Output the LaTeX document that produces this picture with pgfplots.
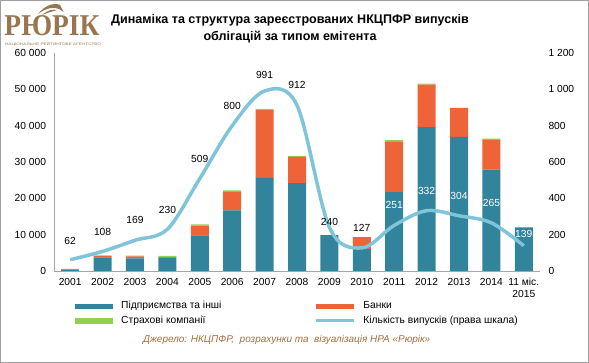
\documentclass[border=0pt]{standalone}
\usepackage{graphicx}
\usepackage{fontspec}
\setmainfont{Liberation Sans}
\newfontfamily\logofont{Liberation Serif}
\usepackage{pgfplots}
\pgfplotsset{compat=1.18}
\usepackage{pgfplotstable}
\definecolor{tealc}{HTML}{31849B}
\definecolor{orangec}{HTML}{EE6338}
\definecolor{greenc}{HTML}{92D050}
\definecolor{linec}{HTML}{7FC4D8}
\definecolor{brownc}{HTML}{9A7650}
\definecolor{srcc}{HTML}{A37040}
\newcommand\lf{\fontsize{10.3}{12}\selectfont}

\pgfplotstableread{
x corp bank ins
0 400 200 0
1 3770 350 150
2 3500 550 200
3 3700 150 300
4 9800 2700 350
5 16700 5200 300
6 25600 18700 300
7 24200 7200 300
8 9900 0 0
9 6050 3300 0
10 21700 14000 300
11 39600 11700 300
12 36900 8000 0
13 27900 8200 300
14 12000 0 0
}\bars

\pgfplotstableread{
x n
0 62
1 108
2 169
3 230
4 509
5 800
6 991
7 912
8 240
9 127
10 251
11 332
12 304
13 265
14 139
}\issues

\begin{document}
\begin{tikzpicture}
\useasboundingbox (-54bp,271bp) rectangle (535bp,-92bp);
\draw[color=gray!75, line width=1.3bp] (-53.35bp,270.35bp) rectangle (534.35bp,-91.35bp);

% logo
\node[text=brownc, inner sep=0pt] at (-2bp,245.5bp) {\resizebox{95bp}{20bp}{\logofont\bfseries РЮРІК}};
\node[text=brownc, inner sep=0pt] at (-1bp,226.5bp) {\resizebox{96bp}{3.2bp}{\fontsize{5}{5}\selectfont НАЦІОНАЛЬНЕ РЕЙТИНГОВЕ АГЕНТСТВО}};
\fill[brownc] (-16bp,257bp) .. controls (-10bp,265bp) and (0bp,269bp) .. (6bp,266bp)
  -- (9.5bp,259bp) -- (5bp,262bp) .. controls (0bp,264.5bp) and (-8bp,263bp) .. (-16bp,257bp) -- cycle;
\fill[brownc] (-12bp,256bp) .. controls (-6bp,261bp) and (-1bp,262bp) .. (3bp,261bp)
  .. controls (-2bp,259.5bp) and (-7bp,258bp) .. (-12bp,256bp) -- cycle;

% title
\node[align=center, inner sep=0pt, font=\fontsize{12.6}{17}\selectfont\bfseries] at (236bp,242.5bp)
  {Динаміка та структура зареєстрованих НКЦПФР випусків\\облігацій за типом емітента};

% source
\node[inner sep=0pt, text=srcc, font=\fontsize{10}{12}\selectfont\itshape] at (232.7bp,-69bp)
  {Джерело: НКЦПФР,\ \ розрахунки та\ \ візуалізація НРА «Рюрік»};

\begin{axis}[
  at={(0,0)}, anchor=south west,
  scale only axis, width=486bp, height=218bp,
  xmin=-0.5, xmax=14.5, ymin=0, ymax=60000,
  scaled y ticks=false, scaled x ticks=false,
  ybar stacked, bar width=18bp,
  axis x line*=bottom, axis y line*=left,
  axis line style={-, draw=gray!70, line width=0.9bp},
  major tick length=0pt,
  xtick={0,...,14},
  xticklabels={2001,2002,2003,2004,2005,2006,2007,2008,2009,2010,2011,2012,2013,2014,{11 міс.\\2015}},
  xticklabel style={align=center, font=\lf, yshift=-4bp},
  ytick={0,10000,20000,30000,40000,50000,60000},
  yticklabels={0,10 000,20 000,30 000,40 000,50 000,60 000},
  yticklabel style={font=\lf, xshift=-4.5bp},
  legend columns=2,
  legend cell align=left,
  legend style={at={(axis description cs:0.0432,-0.141)}, anchor=north west,
    draw=none, fill=none, inner sep=0pt, font=\lf,
    /tikz/every odd column/.append style={column sep=8bp},
    /tikz/every even column/.append style={column sep=93bp},
    /tikz/row sep=5.4bp,
    nodes={inner sep=0pt, text height=7bp, text depth=2bp}},
]
\addplot[fill=tealc, draw=none,
  legend image code/.code={\fill[tealc] (0bp,-2.75bp) rectangle (38bp,2.75bp);}]
  table[x=x, y=corp] {\bars};
\addlegendentry{Підприємства та інші}
\addplot[fill=orangec, draw=none,
  legend image code/.code={\fill[orangec] (0bp,-2.75bp) rectangle (38bp,2.75bp);}]
  table[x=x, y=bank] {\bars};
\addlegendentry{Банки}
\addplot[fill=greenc, draw=none,
  legend image code/.code={\fill[greenc] (0bp,-2.75bp) rectangle (38bp,2.75bp);}]
  table[x=x, y=ins] {\bars};
\addlegendentry{Страхові компанії}
\addlegendimage{color=linec, line width=3bp,
  legend image code/.code={\draw[linec, line width=3bp] (0bp,0bp) -- (38bp,0bp);}}
\addlegendentry{Кількість випусків (права шкала)}
\end{axis}

\begin{axis}[
  at={(0,0)}, anchor=south west,
  scale only axis, width=486bp, height=218bp,
  xmin=-0.5, xmax=14.5, ymin=0, ymax=1200,
  scaled y ticks=false,
  axis x line=none, axis y line*=right,
  y axis line style={draw=none},
  major tick length=0pt,
  ytick={0,200,400,600,800,1000,1200},
  yticklabels={0,200,400,600,800,1 000,1 200},
  yticklabel style={font=\lf, anchor=west, xshift=5bp},
  /pgf/number format/assume math mode=true,
]
\addplot[color=linec, line width=3.5bp, smooth, tension=0.55, mark=none]
  table[x=x, y=n] {\issues};
\addplot[draw=none, mark=none, nodes near coords, point meta=explicit,
  visualization depends on={\thisrow{dy} \as \dy},
  every node near coord/.append style={anchor=center, yshift=\dy bp, font=\lf, text=black, inner sep=0pt}]
  table[x=x, y=n, meta=n] {
x n dy
0 62 19
1 108 19
2 169 20
3 230 19
4 509 20
5 800 20
6 991 16
7 912 20
8 240 5
9 127 20
};
\addplot[draw=none, mark=none, nodes near coords, point meta=explicit,
  visualization depends on={\thisrow{dy} \as \dy},
  every node near coord/.append style={anchor=center, yshift=\dy bp, font=\lf, text=white, inner sep=0pt}]
  table[x=x, y=n, meta=n] {
x n dy
10 251 20
11 332 20
12 304 20
13 265 20
14 139 12
};
\end{axis}
\end{tikzpicture}
\end{document}
